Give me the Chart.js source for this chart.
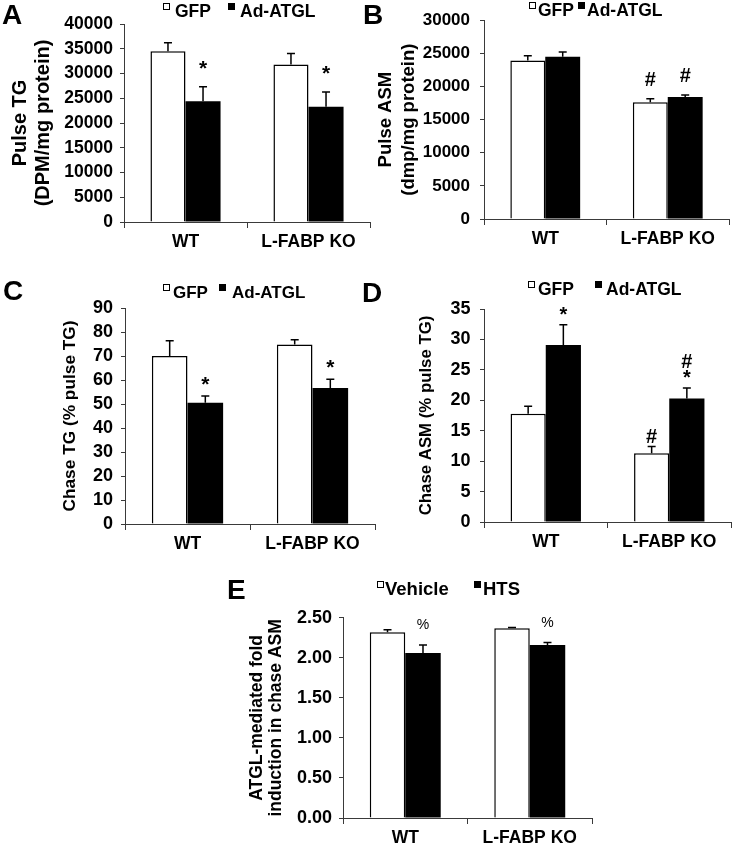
<!DOCTYPE html>
<html>
<head>
<meta charset="utf-8">
<script src="https://cdn.jsdelivr.net/npm/chart.js@4.4.0/dist/chart.umd.min.js"></script>
<style>
    body { margin: 0; background: #fff; width: 734px; height: 848px; position: relative; overflow: hidden;
           font-family: "Liberation Sans", Arial, sans-serif; }
    canvas { position: absolute; }
    .txt { position: absolute; line-height: 1; white-space: nowrap; font-weight: bold; color: #000; }
    .sq { position: absolute; width: 7px; height: 7px; box-sizing: border-box; border: 1px solid #000; }
</style>
</head>
<body>
<script>
const groups = ['WT', 'L-FABP KO'];

// A: pulse TG (DPM/mg protein)
const pulseTgTicks = [0, 5000, 10000, 15000, 20000, 25000, 30000, 35000, 40000];
const pulseTgGfp = [34500, 31800];
const pulseTgGfpErr = [1700, 2250];
const pulseTgAtgl = [24400, 23300];
const pulseTgAtglErr = [2900, 2950];
const pulseTgAtglMarks = ['*', '*'];

// B: pulse ASM (dmp/mg protein)
const pulseAsmTicks = [0, 5000, 10000, 15000, 20000, 25000, 30000];
const pulseAsmGfp = [23900, 17600];
const pulseAsmGfpErr = [750, 550];
const pulseAsmAtgl = [24500, 18400];
const pulseAsmAtglErr = [700, 300];
const pulseAsmGfpMarks = ['', '#'];
const pulseAsmAtglMarks = ['', '#'];

// C: chase TG (% pulse TG)
const chaseTgTicks = [0, 10, 20, 30, 40, 50, 60, 70, 80, 90];
const chaseTgGfp = [70.0, 74.8];
const chaseTgGfpErr = [6.4, 2.0];
const chaseTgAtgl = [50.5, 56.7];
const chaseTgAtglErr = [2.8, 3.6];
const chaseTgAtglMarks = ['*', '*'];

// D: chase ASM (% pulse TG)
const chaseAsmTicks = [0, 5, 10, 15, 20, 25, 30, 35];
const chaseAsmGfp = [17.8, 11.3];
const chaseAsmGfpErr = [1.2, 1.1];
const chaseAsmAtgl = [29.1, 20.3];
const chaseAsmAtglErr = [3.3, 1.7];
const chaseAsmGfpMarks = ['', '#'];
const chaseAsmAtglMarks = ['*', '#\n*'];

// E: ATGL-mediated fold induction in chase ASM
const foldTicks = [0, 0.5, 1, 1.5, 2, 2.5];
const foldVehicle = [2.32, 2.37];
const foldVehicleErr = [0.03, 0.01];
const foldHts = [2.06, 2.16];
const foldHtsErr = [0.10, 0.03];
const foldHtsMarks = ['%', '%'];

const FONT = '"Liberation Sans", Arial, sans-serif';
const AXIS = '#3a3a3a';

// error bars (upward only) + significance marks above them
const errorBars = {
    id: 'errorBars',
    afterDatasetsDraw(chart, args, opt) {
        const { ctx } = chart;
        const y = chart.scales.y;
        ctx.save();
        chart.data.datasets.forEach((ds, i) => {
            chart.getDatasetMeta(i).data.forEach((bar, j) => {
                const top = y.getPixelForValue(ds.data[j] + ds.errors[j]);
                ctx.strokeStyle = '#000';
                ctx.lineWidth = 1.5;
                ctx.beginPath();
                ctx.moveTo(bar.x, bar.y);
                ctx.lineTo(bar.x, top);
                ctx.moveTo(bar.x - 4, top);
                ctx.lineTo(bar.x + 4, top);
                ctx.stroke();
                const lines = ((ds.marks || [])[j] || '').split('\n').filter(Boolean).reverse();
                ctx.fillStyle = '#000';
                ctx.font = opt.font;
                ctx.textAlign = 'center';
                ctx.textBaseline = 'alphabetic';
                lines.forEach((t, k) => ctx.fillText(t, bar.x, top - opt.gap - k * opt.lineH));
            });
        });
        ctx.restore();
    }
};

function addText(text, x, base, size) {
    const el = document.createElement('div');
    el.className = 'txt';
    el.textContent = text;
    el.style.fontSize = size + 'px';
    el.style.left = x + 'px';
    el.style.top = (base - 0.8465 * size) + 'px';
    document.body.appendChild(el);
}

function addSquare(x, base, size, fill) {
    const el = document.createElement('div');
    el.className = 'sq';
    el.style.left = x + 'px';
    el.style.top = (base - 0.78 * size - 1) + 'px';
    el.style.background = fill;
    document.body.appendChild(el);
}

function panel(p) {
    const [bx, by, bw, bh] = p.box;
    const [L, T, R, B] = p.plot;
    const cv = document.createElement('canvas');
    cv.width = bw;
    cv.height = bh;
    cv.style.left = bx + 'px';
    cv.style.top = by + 'px';
    document.body.appendChild(cv);

    new Chart(cv, {
        type: 'bar',
        data: {
            labels: groups,
            datasets: p.series.map((s, i) => ({
                label: s.label,
                data: s.data,
                errors: s.err,
                marks: s.marks,
                backgroundColor: i ? '#000' : '#fff',
                borderColor: '#000',
                borderWidth: i ? 0 : 1.5,
                categoryPercentage: 0.57,
                barPercentage: 1
            }))
        },
        options: {
            responsive: false,
            animation: false,
            devicePixelRatio: 1,
            layout: { padding: { left: 0, top: T - by, right: bx + bw - R, bottom: 0 } },
            plugins: {
                legend: { display: false },
                tooltip: { enabled: false },
                errorBars: { gap: p.markGap, font: p.markFont, lineH: 16 }
            },
            scales: {
                x: {
                    grid: { drawOnChartArea: false, tickLength: 6, color: AXIS, offset: true },
                    border: { color: AXIS, width: 1 },
                    ticks: { color: '#000', font: { family: FONT, size: 17.5, weight: 'bold' }, padding: 4, maxRotation: 0 },
                    afterFit: s => { s.height = by + bh - B; }
                },
                y: {
                    min: p.ticks[0],
                    max: p.ticks[p.ticks.length - 1],
                    afterBuildTicks: s => { s.ticks = p.ticks.map(v => ({ value: v })); },
                    grid: { drawOnChartArea: false, tickLength: 4, color: AXIS },
                    border: { color: AXIS, width: 1 },
                    ticks: {
                        color: '#000',
                        autoSkip: false,
                        font: { family: FONT, size: p.tickSize, weight: 'bold' },
                        padding: p.tickPad,
                        callback: p.fmt || (v => String(v))
                    },
                    title: {
                        display: true,
                        text: p.title,
                        color: '#000',
                        font: { family: FONT, size: p.titleSize, weight: 'bold', lineHeight: p.titleLH },
                        padding: { top: p.titlePad, bottom: 0 }
                    },
                    afterFit: s => { s.width = L - bx; }
                }
            }
        },
        plugins: [errorBars]
    });

    // panel letter and legend
    addText(p.letter[0], p.letter[1], p.letter[2], 28);
    const lg = p.legend;
    addSquare(lg.x[0], lg.base, lg.size, '#fff');
    addText(p.series[0].label, lg.x[1], lg.base, lg.size);
    addSquare(lg.x[2], lg.base, lg.size, '#000');
    addText(p.series[1].label, lg.x[3], lg.base, lg.size);
}

panel({
    box: [0, 0, 372, 256], plot: [124, 24, 370, 222],
    ticks: pulseTgTicks, tickSize: 17.5, tickPad: 7,
    title: ['Pulse TG', '(DPM/mg protein)'], titleSize: 20, titleLH: 1.15, titlePad: 8.5,
    series: [
        { label: 'GFP', data: pulseTgGfp, err: pulseTgGfpErr },
        { label: 'Ad-ATGL', data: pulseTgAtgl, err: pulseTgAtglErr, marks: pulseTgAtglMarks }
    ],
    markGap: 12, markFont: 'bold 21px ' + FONT,
    letter: ['A', 2, 25], legend: { x: [163, 175, 228, 240], base: 18, size: 17.5 }
});

panel({
    box: [372, 0, 362, 256], plot: [484, 12, 729, 219],
    ticks: pulseAsmTicks, tickSize: 17, tickPad: 10,
    title: ['Pulse ASM', '(dmp/mg protein)'], titleSize: 18.5, titleLH: 1.24, titlePad: 2,
    series: [
        { label: 'GFP', data: pulseAsmGfp, err: pulseAsmGfpErr, marks: pulseAsmGfpMarks },
        { label: 'Ad-ATGL', data: pulseAsmAtgl, err: pulseAsmAtglErr, marks: pulseAsmAtglMarks }
    ],
    markGap: 13, markFont: 'bold 20px ' + FONT,
    letter: ['B', 363, 25], legend: { x: [529, 538, 578, 587], base: 17, size: 17.5 }
});

panel({
    box: [0, 270, 378, 290], plot: [125, 308, 375, 524],
    ticks: chaseTgTicks, tickSize: 18, tickPad: 8,
    title: 'Chase TG (% pulse TG)', titleSize: 17.3, titleLH: 1.15, titlePad: 60,
    series: [
        { label: 'GFP', data: chaseTgGfp, err: chaseTgGfpErr },
        { label: 'Ad-ATGL', data: chaseTgAtgl, err: chaseTgAtglErr, marks: chaseTgAtglMarks }
    ],
    markGap: 5, markFont: 'bold 21px ' + FONT,
    letter: ['C', 3, 301], legend: { x: [163, 173, 219, 232], base: 298.5, size: 17 }
});

panel({
    box: [372, 270, 362, 290], plot: [484, 309, 731, 522],
    ticks: chaseAsmTicks, tickSize: 18, tickPad: 9.5,
    title: 'Chase ASM (% pulse TG)', titleSize: 16.8, titleLH: 1.15, titlePad: 45,
    series: [
        { label: 'GFP', data: chaseAsmGfp, err: chaseAsmGfpErr, marks: chaseAsmGfpMarks },
        { label: 'Ad-ATGL', data: chaseAsmAtgl, err: chaseAsmAtglErr, marks: chaseAsmAtglMarks }
    ],
    markGap: 4, markFont: 'bold 20px ' + FONT,
    letter: ['D', 362, 303], legend: { x: [528, 538, 595, 606], base: 296, size: 17.5 }
});

panel({
    box: [220, 600, 380, 248], plot: [343, 613, 592, 818],
    ticks: foldTicks, tickSize: 18, tickPad: 7, fmt: v => v.toFixed(2),
    title: ['ATGL-mediated fold', 'induction in chase ASM'], titleSize: 17.5, titleLH: 1.12, titlePad: 27,
    series: [
        { label: 'Vehicle', data: foldVehicle, err: foldVehicleErr },
        { label: 'HTS', data: foldHts, err: foldHtsErr, marks: foldHtsMarks }
    ],
    markGap: 16, markFont: '14px ' + FONT,
    letter: ['E', 227, 600], legend: { x: [377, 385, 474, 483], base: 596, size: 18.5 }
});
</script>
</body>
</html>
